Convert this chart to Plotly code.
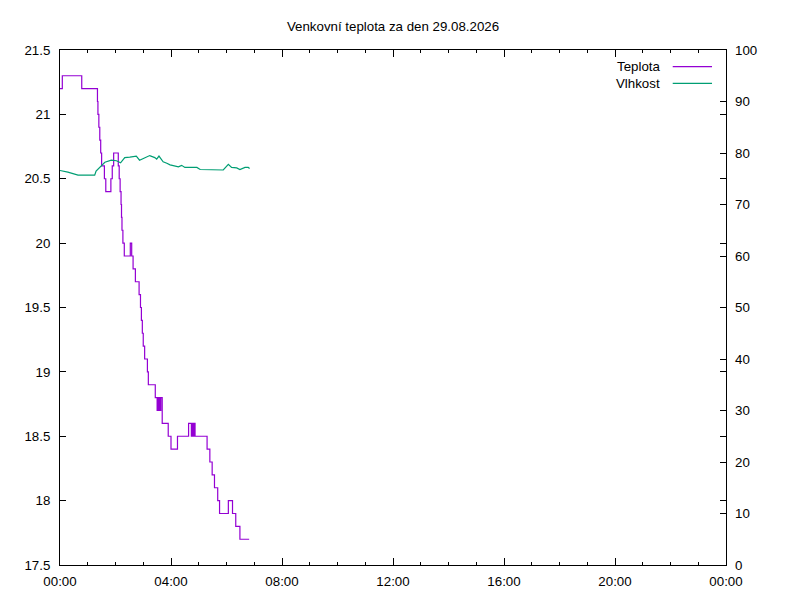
import pandas as pd
import plotly.graph_objects as go

den = pd.Timestamp("2026-08-29")

# teplota: minuty od pulnoci a hodnota [°C]
teplota_min = [0, 5, 47, 81, 82, 84, 86, 88, 90, 96, 99, 110, 113, 116, 126,
               128, 130, 132, 133, 134, 136, 139, 152, 155, 158, 163, 171,
               174, 176, 178, 180, 183, 189, 191, 206, 210, 212, 214, 215,
               217, 218, 221, 234, 240, 254, 278, 284, 286, 288, 290, 292,
               318, 324, 329, 334, 341, 345, 364, 373, 380, 389, 409]
teplota_val = [21.2, 21.3, 21.2, 21.1, 21.0, 20.9, 20.8, 20.7, 20.6, 20.5,
               20.4, 20.5, 20.6, 20.7, 20.6, 20.5, 20.4, 20.3, 20.2, 20.1,
               20.0, 19.9, 20.0, 19.9, 19.8, 19.7, 19.6, 19.5, 19.4, 19.3,
               19.2, 19.1, 19.0, 18.9, 18.8, 18.7, 18.8, 18.7, 18.8, 18.7,
               18.8, 18.6, 18.5, 18.4, 18.5, 18.6, 18.5, 18.6, 18.5, 18.6,
               18.5, 18.4, 18.3, 18.2, 18.1, 18.0, 17.9, 18.0, 17.9, 17.8,
               17.7, 17.7]

# vlhkost: minuty od pulnoci a hodnota [%]
vlhkost_min = [0, 17, 39, 75, 78, 86, 97, 111, 122, 131, 140, 151, 165, 172,
               183, 194, 205, 209, 214, 223, 231, 238, 256, 263, 270, 296,
               303, 328, 331, 353, 364, 371, 382, 389, 400, 407, 410]
vlhkost_val = [76.6, 76.3, 75.7, 75.7, 76.5, 77.3, 78.2, 78.6, 78.5, 78.1,
               79.1, 79.2, 79.4, 78.6, 79.1, 79.5, 79.1, 78.8, 79.4, 78.3,
               78.0, 77.7, 77.3, 77.6, 77.2, 77.2, 76.8, 76.8, 76.7, 76.7,
               77.8, 77.2, 77.1, 76.8, 77.2, 77.2, 77.0]

nazev = "Venkovní teplota za den 29.08.2026"
barva_t = "#9400D3"
barva_v = "#009E73"

t_cas = den + pd.to_timedelta(teplota_min, unit="min")
v_cas = den + pd.to_timedelta(vlhkost_min, unit="min")

fig = go.Figure()
fig.add_trace(go.Scatter(x=t_cas, y=teplota_val, name="Teplota", mode="lines",
                         line=dict(color=barva_t, width=1.2, shape="hv")))
fig.add_trace(go.Scatter(x=v_cas, y=vlhkost_val, name="Vlhkost", mode="lines",
                         yaxis="y2", line=dict(color=barva_v, width=1.2)))

font = dict(family="Liberation Sans, Arial, sans-serif", size=13.3,
            color="black")
osa = dict(showgrid=False, zeroline=False, showline=True, linecolor="black",
           linewidth=1, ticks="inside", tickcolor="black", tickwidth=1,
           ticklen=6, tickfont=font, ticklabelstandoff=6)

# stranka ma okraj 8 px, proto je obrazek o 8 px mensi
fig.update_layout(
    width=792, height=592,
    margin=dict(l=52, r=74, t=42, b=35),
    paper_bgcolor="white", plot_bgcolor="white",
    font=font, showlegend=False,
    title=dict(text=nazev, x=(52 + 718) / 2 / 792, xanchor="center",
               y=1 - 18 / 592, yanchor="middle", yref="container",
               font=font),
    xaxis=dict(osa, type="date", mirror="ticks",
               range=[den, den + pd.Timedelta(hours=24)],
               dtick=4 * 3600 * 1000, tick0=den, tickformat="%H:%M",
               ticklen=7, ticklabelstandoff=4,
               minor=dict(dtick=3600 * 1000, ticks="inside", ticklen=3,
                          tickcolor="black", showgrid=False)),
    yaxis=dict(osa, range=[17.5, 21.5], dtick=0.5, mirror="ticks"),
    yaxis2=dict(osa, range=[0, 100], dtick=10, overlaying="y", side="right",
                showline=False, ticklabelstandoff=8),
)

# legenda ve stylu gnuplotu: text vpravo zarovnany, vzorek za nim
for i, (jmeno, barva) in enumerate([("Teplota", barva_t), ("Vlhkost", barva_v)]):
    yy = (565 - (66.7 + i * 16.6)) / 515
    fig.add_annotation(x=0.904, y=yy, xref="paper", yref="paper", text=jmeno,
                       showarrow=False, xanchor="right", yanchor="middle",
                       font=font)
    fig.add_shape(type="line", xref="paper", yref="paper", x0=0.920, x1=0.979,
                  y0=yy, y1=yy, line=dict(color=barva, width=1.2))

fig.write_html("out.html")
